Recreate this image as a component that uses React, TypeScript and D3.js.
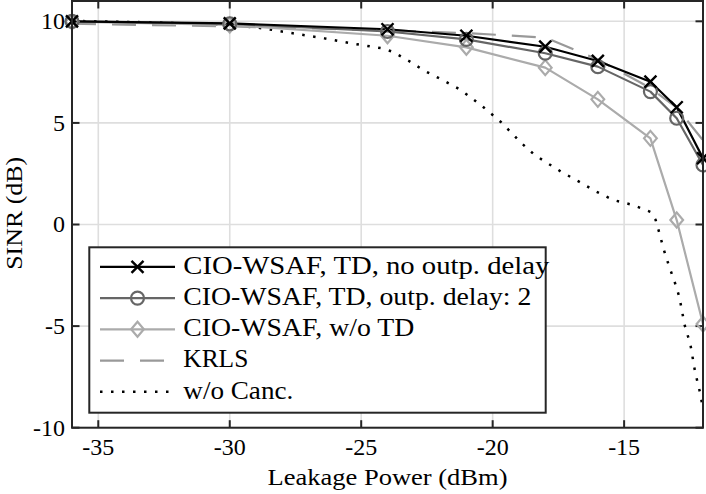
import React from "react";
import * as d3 from "d3";

const leakagePower = [-36, -30, -24, -21, -18, -16, -14, -13, -12];
const sinrTdNoDelay = [10.0, 9.9, 9.61, 9.29, 8.75, 8.05, 7.03, 5.77, 3.26];
const sinrTdDelay2 = [10.0, 9.88, 9.5, 9.11, 8.43, 7.77, 6.54, 5.23, 2.93];
const sinrNoTd = [9.98, 9.82, 9.29, 8.72, 7.72, 6.16, 4.24, 0.22, -4.9];
const sinrKrls = [9.88, 9.75, 9.55, 9.42, 9.2, 8.12, 6.72, 5.75, 4.15];

const noCancX = [-36, -33, -30, -28.7, -27.6, -26.4, -25.4, -24.2, -23.8, -23.2, -22.6, -21.9, -21.25, -20.9, -20.3, -19.7, -18.9, -18.4, -18.0, -17.4, -16.7, -16.06, -15.4, -14.66, -14.0, -13.8, -13.67, -13.5, -13.27, -13.1, -12.9, -12.7, -12.48, -12.3, -12.1, -12.0];
const noCancY = [10.02, 9.95, 9.83, 9.65, 9.41, 9.16, 8.92, 8.67, 8.5, 8.06, 7.57, 7.11, 6.65, 6.32, 5.72, 5.06, 4.0, 3.42, 3.09, 2.6, 2.1, 1.62, 1.2, 0.96, 0.62, 0.22, -0.37, -1.2, -2.14, -2.73, -3.56, -4.94, -5.9, -7.26, -8.34, -9.1];

const xTicks = [-35, -30, -25, -20, -15];
const yTicks = [-10, -5, 0, 5, 10];
const legendLabels = [
  "CIO-WSAF, TD, no outp. delay",
  "CIO-WSAF, TD, outp. delay: 2",
  "CIO-WSAF, w/o TD",
  "KRLS",
  "w/o Canc.",
];

// layout (pixel widths of the typeset labels in the reference)
const legendTextWidths = [366, 348, 231, 65, 110];

const W = 706;
const H = 494;
const plot = { left: 72, right: 703, top: 1, bottom: 427.7 };
const FONT = "'Liberation Serif', 'Times New Roman', serif";
const AXIS = "#262626";

type Marker = "x" | "o" | "d" | null;
interface Style {
  color: string;
  width: number;
  dash?: string;
  marker: Marker;
}
const styles: Style[] = [
  { color: "#000000", width: 2.2, marker: "x" },
  { color: "#666666", width: 2.2, marker: "o" },
  { color: "#ababab", width: 2.2, marker: "d" },
  { color: "#999999", width: 2.2, dash: "24 16", marker: null },
  { color: "#000000", width: 2.5, dash: "2.5 8.5", marker: null },
];

function MarkerShape({ type, cx, cy, color }: { type: Marker; cx: number; cy: number; color: string }) {
  if (type === "x") {
    const s = 6;
    return (
      <path
        d={`M${cx - s},${cy - s}L${cx + s},${cy + s}M${cx - s},${cy + s}L${cx + s},${cy - s}`}
        stroke={color}
        strokeWidth={2.4}
        fill="none"
      />
    );
  }
  if (type === "o") {
    return <circle cx={cx} cy={cy} r={6.5} stroke={color} strokeWidth={2.2} fill="none" />;
  }
  if (type === "d") {
    const s = 7.5;
    return (
      <path
        d={`M${cx},${cy - s}L${cx + s * 0.85},${cy}L${cx},${cy + s}L${cx - s * 0.85},${cy}Z`}
        stroke={color}
        strokeWidth={2.2}
        fill="none"
      />
    );
  }
  return null;
}

export default function App() {
  const x = d3.scaleLinear().domain([-36, -12]).range([plot.left, plot.right]);
  const y = d3.scaleLinear().domain([-10, 11]).range([plot.bottom, plot.top]);
  const line = d3
    .line<[number, number]>()
    .x((d) => x(d[0]))
    .y((d) => y(d[1]));

  const series: [number, number][][] = [
    leakagePower.map((p, i) => [p, sinrTdNoDelay[i]] as [number, number]),
    leakagePower.map((p, i) => [p, sinrTdDelay2[i]] as [number, number]),
    leakagePower.map((p, i) => [p, sinrNoTd[i]] as [number, number]),
    leakagePower.map((p, i) => [p, sinrKrls[i]] as [number, number]),
    noCancX.map((p, i) => [p, noCancY[i]] as [number, number]),
  ];

  const drawOrder = [4, 3, 2, 1, 0];
  const tickLen = 7.5;

  const legend = { x: 89.3, y: 247.3, w: 456.4, h: 165.4 };
  const legendBaselines = [273.5, 304.8, 336, 367.3, 398.5];

  return (
    <div style={{ position: "fixed", left: 0, top: 0, width: W, height: H, background: "#fff" }}>
      <svg width={W} height={H} viewBox={`0 0 ${W} ${H}`} style={{ display: "block" }}>
        <defs>
          <clipPath id="plotClip">
            <rect x={plot.left} y={plot.top} width={plot.right - plot.left} height={plot.bottom - plot.top} />
          </clipPath>
        </defs>
        <rect x={0} y={0} width={W} height={H} fill="#fff" />
        {/* grid */}
        <g stroke="#dedede" strokeWidth={1.6}>
          {xTicks.map((t) => (
            <line key={"gx" + t} x1={x(t)} x2={x(t)} y1={plot.top} y2={plot.bottom} />
          ))}
          {yTicks.map((t) => (
            <line key={"gy" + t} x1={plot.left} x2={plot.right} y1={y(t)} y2={y(t)} />
          ))}
        </g>
        {/* ticks */}
        <g stroke={AXIS} strokeWidth={2}>
          {xTicks.map((t) => (
            <g key={"tx" + t}>
              <line x1={x(t)} x2={x(t)} y1={plot.bottom} y2={plot.bottom - tickLen} />
              <line x1={x(t)} x2={x(t)} y1={plot.top} y2={plot.top + tickLen} />
            </g>
          ))}
          {yTicks.map((t) => (
            <g key={"ty" + t}>
              <line x1={plot.left} x2={plot.left + tickLen} y1={y(t)} y2={y(t)} />
              <line x1={plot.right} x2={plot.right - tickLen} y1={y(t)} y2={y(t)} />
            </g>
          ))}
        </g>
        {/* series lines */}
        <g clipPath="url(#plotClip)">
          {drawOrder.map((i) => (
            <path
              key={"l" + i}
              d={line(series[i]) || ""}
              fill="none"
              stroke={styles[i].color}
              strokeWidth={styles[i].width}
              strokeDasharray={styles[i].dash}
              strokeLinejoin="round"
            />
          ))}
        </g>
        {/* markers */}
        {drawOrder.map((i) =>
          styles[i].marker ? (
            <g key={"m" + i}>
              {series[i].map((d, j) => (
                <MarkerShape key={j} type={styles[i].marker} cx={x(d[0])} cy={y(d[1])} color={styles[i].color} />
              ))}
            </g>
          ) : null
        )}
        {/* axes box */}
        <rect
          x={plot.left}
          y={plot.top}
          width={plot.right - plot.left}
          height={plot.bottom - plot.top}
          fill="none"
          stroke={AXIS}
          strokeWidth={2}
        />
        {/* tick labels */}
        {xTicks.map((t) => (
          <text key={"xl" + t} x={x(t)} y={455} textAnchor="middle" fontFamily={FONT} fontSize={24} fill="#000">
            {String(t)}
          </text>
        ))}
        {yTicks.map((t) => (
          <text key={"yl" + t} x={65} y={y(t) + 7.8} textAnchor="end" fontFamily={FONT} fontSize={24} fill="#000">
            {String(t)}
          </text>
        ))}
        {/* axis labels */}
        <text
          x={(plot.left + plot.right) / 2}
          y={485}
          textAnchor="middle"
          fontFamily={FONT}
          fontSize={24}
          textLength={240}
          lengthAdjust="spacingAndGlyphs"
        >
          Leakage Power (dBm)
        </text>
        <text
          transform={`translate(21.7,213.3) rotate(-90)`}
          textAnchor="middle"
          fontFamily={FONT}
          fontSize={24}
          textLength={113}
          lengthAdjust="spacingAndGlyphs"
        >
          SINR (dB)
        </text>
        {/* legend */}
        <rect x={legend.x} y={legend.y} width={legend.w} height={legend.h} fill="#fff" stroke={AXIS} strokeWidth={2} />
        {legendLabels.map((lab, i) => {
          const by = legendBaselines[i];
          const ly = by - 6.7;
          return (
            <g key={"lg" + i}>
              <line
                x1={100}
                x2={175}
                y1={ly}
                y2={ly}
                stroke={styles[i].color}
                strokeWidth={styles[i].width}
                strokeDasharray={styles[i].dash}
              />
              {styles[i].marker ? (
                <MarkerShape type={styles[i].marker} cx={137.5} cy={ly} color={styles[i].color} />
              ) : null}
              <text
                x={183.3}
                y={by}
                fontFamily={FONT}
                fontSize={25}
                fill="#000"
                textLength={legendTextWidths[i]}
                lengthAdjust="spacingAndGlyphs"
              >
                {lab}
              </text>
            </g>
          );
        })}
      </svg>
    </div>
  );
}
